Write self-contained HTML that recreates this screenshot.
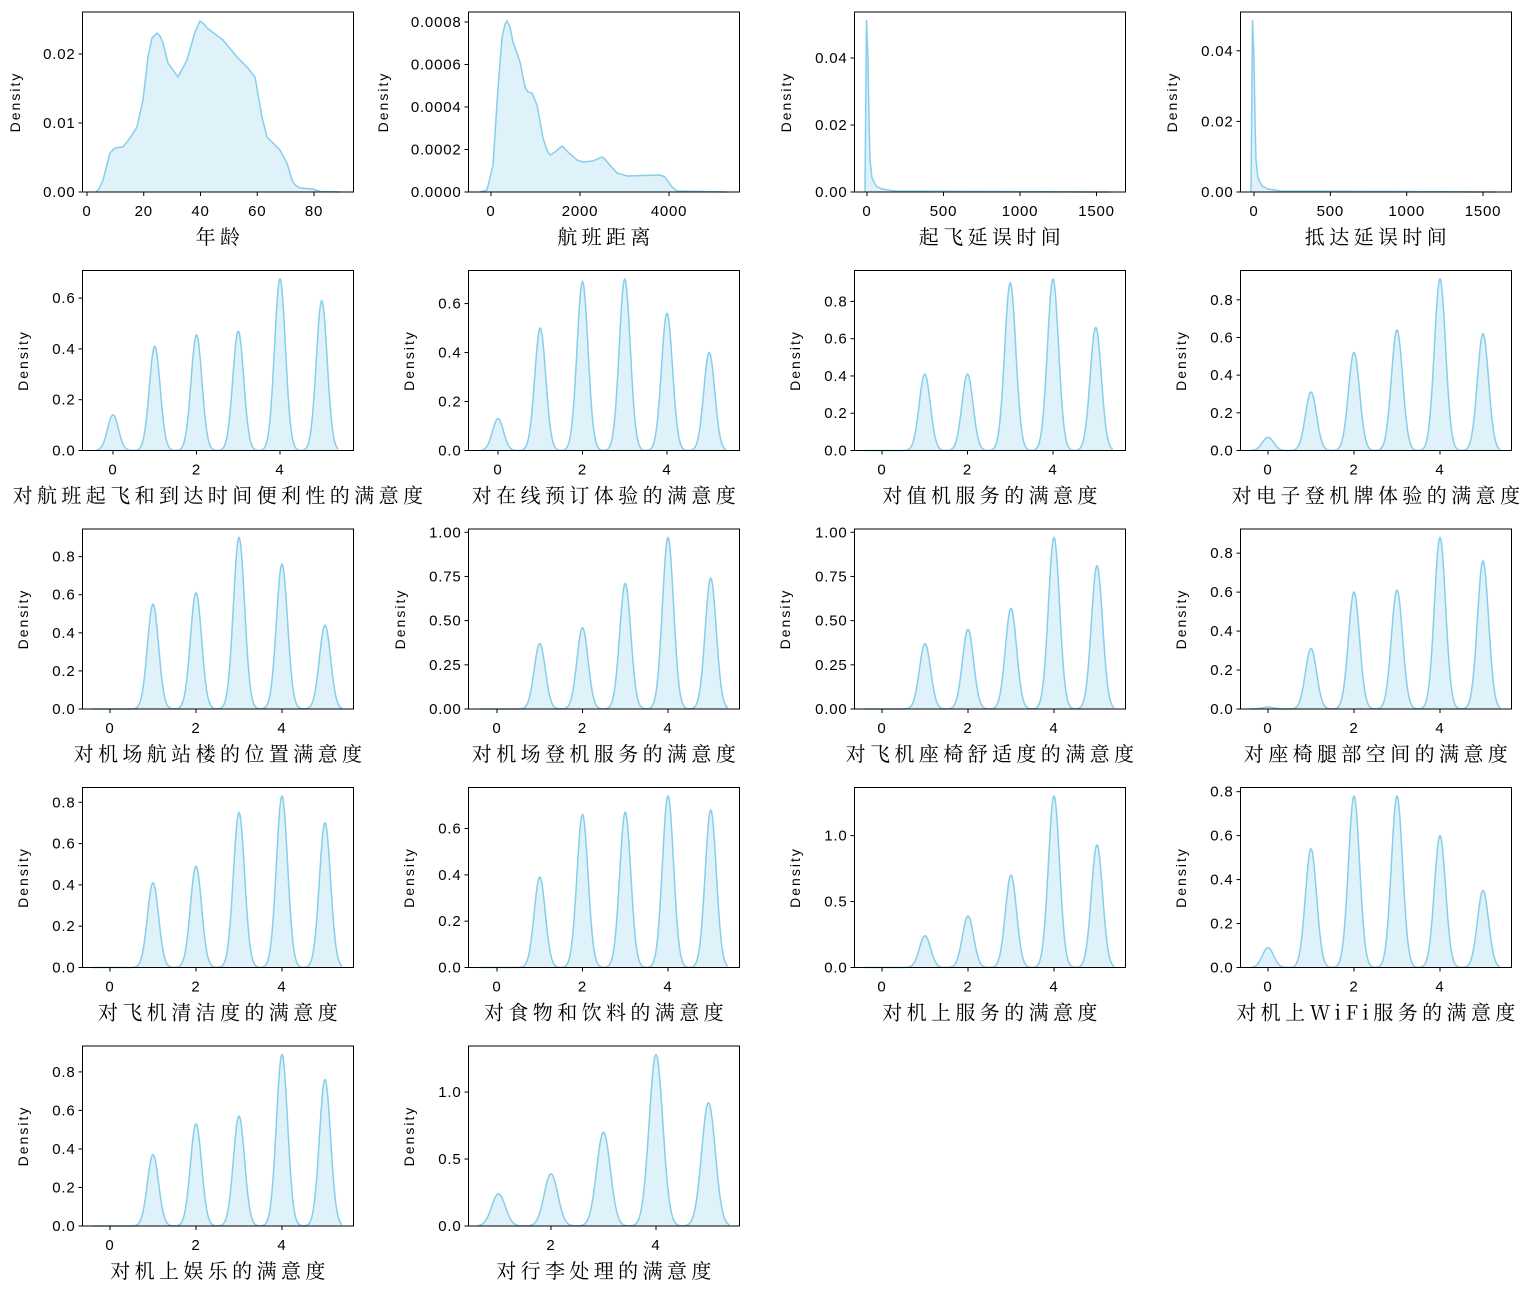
<!DOCTYPE html>
<html><head><meta charset="utf-8">
<style>
html,body{margin:0;padding:0;background:#fff;}
#wrap{width:1523px;height:1294px;}
svg text{font-family:"Liberation Sans","Noto Sans CJK SC",sans-serif;}
.tk{font-size:15px;fill:#000;letter-spacing:0.8px;}
.xl{font-size:20px;letter-spacing:4.4px;font-family:"Noto Serif CJK SC","Noto Sans CJK SC",serif !important;}
.dl{font-size:14px;letter-spacing:2px;}
</style></head>
<body>
<div id="wrap"></div>
<script>
var L=[82.5,468.5,854.5,1240.5],T=[12,270.5,529,787.5,1046],W=271,H=180;
var LINE='#87CEEB',FILL='#87CEEB';
var out='';
function axes(c,r,fx,fy,xt,yt,pts,label,dx){
  var l=L[c],t=T[r],b=t+H,i,d='';
  for(i=0;i<pts.length;i++){d+=(i?'L':'M')+pts[i][0].toFixed(1)+','+pts[i][1].toFixed(1);}
  var last=pts[pts.length-1][0].toFixed(1),first=pts[0][0].toFixed(1);
  out+='<path d="'+d+'L'+last+','+b+'L'+first+','+b+'Z" fill="'+FILL+'" fill-opacity="0.27" stroke="none"/>';
  out+='<path d="'+d+'" fill="none" stroke="'+LINE+'" stroke-width="1.5"/>';
  out+='<rect x="'+l+'" y="'+t+'" width="'+W+'" height="'+H+'" fill="none" stroke="#000" stroke-width="1"/>';
  for(i=0;i<xt.length;i++){var x=fx(xt[i][0]);out+='<line x1="'+x+'" y1="'+b+'" x2="'+x+'" y2="'+(b+4)+'" stroke="#000"/><text class="tk" x="'+x+'" y="'+(b+24)+'" text-anchor="middle">'+xt[i][1]+'</text>';}
  for(i=0;i<yt.length;i++){var y=fy(yt[i][0]);out+='<line x1="'+l+'" y1="'+y+'" x2="'+(l-4)+'" y2="'+y+'" stroke="#000"/><text class="tk" x="'+(l-7)+'" y="'+(y+5)+'" text-anchor="end">'+yt[i][1]+'</text>';}
  out+='<text class="dl" transform="translate('+(dx+5)+','+(t+H/2)+') rotate(-90)" text-anchor="middle">Density</text>';
  out+='<text class="xl" x="'+(l+W/2+2)+'" y="'+(b+52)+'" text-anchor="middle">'+label+'</text>';
}
try{
axes(0,0,function(v){return 87+v*2.8375;},function(v){return 192-v*6900;},[[0,'0'],[20,'20'],[40,'40'],[60,'60'],[80,'80']],[[0,'0.00'],[0.01,'0.01'],[0.02,'0.02']],
[[96,192],[99,189],[103,180],[110,153],[115,148],[123,147],[130,138],[137,127],[143,100],[148,57],[152,38],[157,33],[160,36],[163,43],[168,63],[178,77],[187,60],[195,32],[200,21],[204,24],[207,28],[223,40],[237,57],[247,67],[255,77],[262,117],[267,137],[280,150],[287,163],[292,180],[295,185],[300,188],[313,189],[320,191.5],[340,192]],'年龄',15);
axes(1,0,function(v){return 491+v*0.0445;},function(v){return 192-v*212500;},[[0,'0'],[2000,'2000'],[4000,'4000']],[[0,'0.0000'],[0.0002,'0.0002'],[0.0004,'0.0004'],[0.0006,'0.0006'],[0.0008,'0.0008']],
[[480,192],[487,190],[493,165],[498,88],[502,38],[505,24],[507,21],[510,27],[513,42],[520,62],[525,87],[528,92],[532,93],[537,105],[543,138],[547,150],[550,155],[555,152],[562,146],[568,152],[577,160],[583,162],[593,161],[602,157],[605,159],[608,163],[617,173],[627,176],[660,175],[665,177],[672,187],[677,191],[727,192]],'航班距离',383);
axes(2,0,function(v){return 867+v*0.153;},function(v){return 192-v*3350;},[[0,'0'],[500,'500'],[1000,'1000'],[1500,'1500']],[[0,'0.00'],[0.02,'0.02'],[0.04,'0.04']],
[[865,192],[866.5,20],[868,60],[869,120],[870,160],[872,178],[876,186],[882,189],[895,191],[1110,192]],'起飞延误时间',786);
axes(3,0,function(v){return 1254+v*0.1527;},function(v){return 192-v*3530;},[[0,'0'],[500,'500'],[1000,'1000'],[1500,'1500']],[[0,'0.00'],[0.02,'0.02'],[0.04,'0.04']],
[[1251,192],[1252.5,20],[1254,60],[1255,120],[1256,160],[1258,178],[1262,186],[1268,189],[1281,191],[1496,192]],'抵达延误时间',1172);
function ord(c,r,x0,ppu,peaks,yt,dec,label,dx,start,xt){
  var mx=Math.max.apply(null,peaks)*1.05;
  var fx=function(v){return L[c]+x0+v*ppu;}, fy=function(v){return T[r]+H-v/mx*H;};
  var sg=0.13,pts=[],x,i,y,z;
  if(start===undefined)start=0;
  for(x=start-0.4;x<=5.4001;x+=0.01){y=0;for(i=0;i<peaks.length;i++){z=(x-i)/sg;y+=peaks[i]*Math.exp(-0.5*z*z);}pts.push([fx(x),fy(y)]);}
  var ytl=[];for(i=0;i<yt.length;i++)ytl.push([yt[i],yt[i].toFixed(dec)]);
  axes(c,r,fx,fy,xt||[[0,'0'],[2,'2'],[4,'4']],ytl,pts,label,dx);
}
var y8=[0,0.2,0.4,0.6,0.8],y6=[0,0.2,0.4,0.6],y1=[0,0.25,0.5,0.75,1.0],y5=[0,0.5,1.0];
ord(0,1,30.5,41.75,[0.14,0.41,0.455,0.47,0.675,0.59],y6,1,'对航班起飞和到达时间便利性的满意度',23);
ord(1,1,29.5,42.25,[0.13,0.50,0.69,0.70,0.56,0.40],y6,1,'对在线预订体验的满意度',409);
ord(2,1,27.5,42.75,[0,0.41,0.41,0.90,0.92,0.66],y8,1,'对值机服务的满意度',795);
ord(3,1,27.5,43,[0.07,0.31,0.52,0.64,0.91,0.62],y8,1,'对电子登机牌体验的满意度',1181);
ord(0,2,27.5,43,[0,0.55,0.61,0.90,0.76,0.44],y8,1,'对机场航站楼的位置满意度',23);
ord(1,2,28.5,42.75,[0,0.37,0.46,0.71,0.97,0.74],y1,2,'对机场登机服务的满意度',400);
ord(2,2,27.5,43,[0,0.37,0.45,0.57,0.97,0.81],y1,2,'对飞机座椅舒适度的满意度',785);
ord(3,2,27.5,43,[0.01,0.31,0.60,0.61,0.88,0.76],y8,1,'对座椅腿部空间的满意度',1181);
ord(0,3,27.5,43,[0,0.41,0.49,0.75,0.83,0.70],y8,1,'对飞机清洁度的满意度',23);
ord(1,3,28.5,42.75,[0,0.39,0.66,0.67,0.74,0.68],y6,1,'对食物和饮料的满意度',409);
ord(2,3,27.5,43,[0,0.24,0.39,0.70,1.30,0.93],y5,1,'对机上服务的满意度',795);
ord(3,3,27.5,43,[0.09,0.54,0.78,0.78,0.60,0.35],y8,1,'对机上WiFi服务的满意度',1181);
ord(0,4,27.5,43,[0,0.37,0.53,0.57,0.89,0.76],y8,1,'对机上娱乐的满意度',23);
ord(1,4,-22.5,52.5,[0,0.24,0.39,0.70,1.28,0.92],y5,1,'对行李处理的满意度',409,1,[[2,'2'],[4,'4']]);
}catch(e){}
document.getElementById('wrap').innerHTML='<svg width="1523" height="1294" xmlns="http://www.w3.org/2000/svg">'+out+'</svg>';
</script>
</body></html>
